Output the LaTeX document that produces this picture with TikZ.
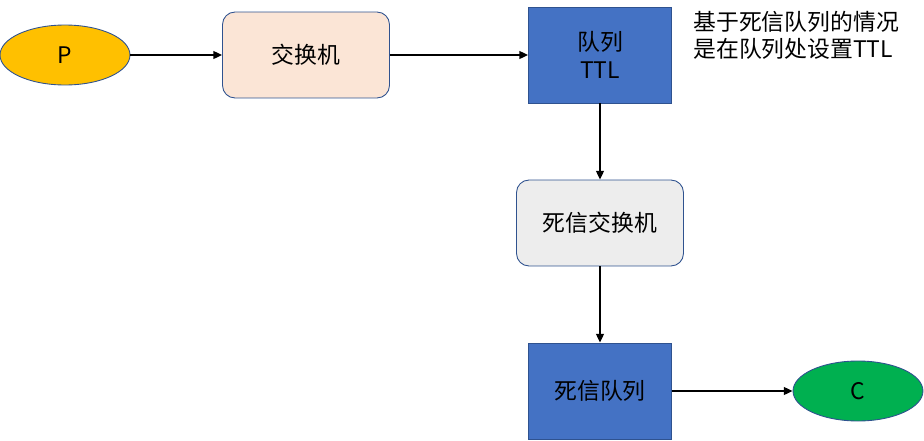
\documentclass[tikz,border=0pt]{standalone}
\usepackage{fontspec}
\setmainfont{Noto Sans CJK SC}
\usetikzlibrary{shapes.geometric,arrows.meta}
\definecolor{mqborder}{RGB}{47,82,143}
\definecolor{mqyellow}{RGB}{255,192,0}
\definecolor{mqpeach}{RGB}{251,229,214}
\definecolor{mqblue}{RGB}{68,114,196}
\definecolor{mqgray}{RGB}{237,237,237}
\definecolor{mqgreen}{RGB}{0,176,80}

\tikzset{
  mqtext/.style={font=\fontsize{13}{15.5}\selectfont, text=black},
  client/.style={mqtext, ellipse, draw=mqborder, line width=0.5pt, inner sep=0pt,
    minimum width=2.6cm, minimum height=1.2cm},
  exchange/.style={mqtext, rectangle, rounded corners=0.25cm, draw=mqborder, line width=0.5pt,
    minimum width=3.34cm, minimum height=1.72cm, align=center},
  queue/.style={mqtext, rectangle, draw=mqborder, line width=0.5pt, fill=mqblue,
    minimum width=2.86cm, minimum height=1.92cm, align=center},
  flow/.style={-{Triangle[length=5pt,width=4.5pt]}, line width=0.9pt, black}
}

\begin{document}
\begin{tikzpicture}[x=0.02cm, y=-0.02cm]
  \useasboundingbox (0,0) rectangle (924,440);
  % nodes
  \node[client, fill=mqyellow] (P) at (65,55) {P};
  \node[exchange, fill=mqpeach] (X) at (306,55) {交换机};
  \node[queue] (Q) at (600,55) {队列\\TTL};
  \node[exchange, fill=mqgray] (DX) at (600,223) {死信交换机};
  \node[queue] (DQ) at (600,391) {死信队列};
  \node[client, fill=mqgreen] (C) at (858,391) {C};
  \node[mqtext, anchor=north west, inner sep=0pt, align=left] (note) at (693,11)
    {基于死信队列的情况\\是在队列处设置TTL};
  % connectors
  \draw[flow] (P) -- (X);
  \draw[flow] (X) -- (Q);
  \draw[flow] (Q) -- (DX);
  \draw[flow] (DX) -- (DQ);
  \draw[flow] (DQ) -- (C);
\end{tikzpicture}
\end{document}
